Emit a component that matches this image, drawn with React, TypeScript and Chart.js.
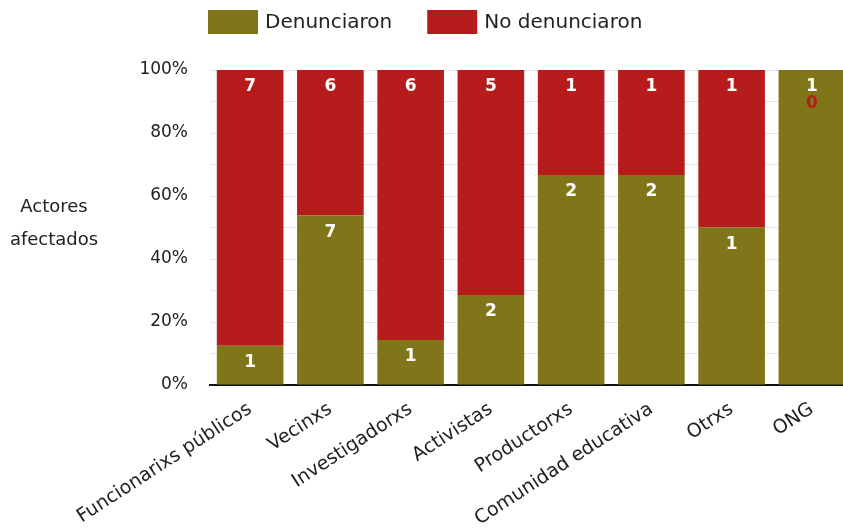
import React, { useEffect, useRef } from "react";
import { Chart, registerables } from "chart.js";

Chart.register(...registerables);

const categories = [
  "Funcionarixs públicos",
  "Vecinxs",
  "Investigadorxs",
  "Activistas",
  "Productorxs",
  "Comunidad educativa",
  "Otrxs",
  "ONG",
];
const denunciaron = [1, 7, 1, 2, 2, 2, 1, 1];
const noDenunciaron = [7, 6, 6, 5, 1, 1, 1, 0];
const seriesNames = ["Denunciaron", "No denunciaron"];
const seriesColors = ["#807519", "#B71C1C"];
const axisTitleLines = ["Actores", "afectados"];

const FONT = '"DejaVu Sans", Verdana, sans-serif';
const TEXT = "#222222";

const toPct = (a: number[], b: number[]) => a.map((v, i) => (v / (v + b[i])) * 100);

const legendPlugin = {
  id: "customLegend",
  afterDraw(chart: any) {
    const ctx = chart.ctx;
    ctx.save();
    ctx.font = `20px ${FONT}`;
    ctx.textBaseline = "middle";
    ctx.textAlign = "left";
    const boxW = 50;
    const boxH = 24;
    const textGap = 7;
    const itemGap = 35;
    const yMid = 22;
    let x = chart.chartArea.left - 2;
    chart.data.datasets.forEach((ds: any) => {
      ctx.fillStyle = ds.backgroundColor;
      ctx.fillRect(x, yMid - boxH / 2, boxW, boxH);
      ctx.fillStyle = TEXT;
      ctx.fillText(ds.label, x + boxW + textGap, yMid + 1);
      x += boxW + textGap + ctx.measureText(ds.label).width + itemGap;
    });
    ctx.restore();
  },
};

const axisTitlePlugin = {
  id: "axisTitle",
  afterDraw(chart: any) {
    const ctx = chart.ctx;
    ctx.save();
    ctx.font = `18px ${FONT}`;
    ctx.fillStyle = TEXT;
    ctx.textAlign = "center";
    ctx.textBaseline = "middle";
    const cx = 54;
    const mid = (chart.chartArea.top + chart.chartArea.bottom) / 2;
    ctx.fillText(axisTitleLines[0], cx, mid - 20);
    ctx.fillText(axisTitleLines[1], cx, mid + 13);
    ctx.restore();
  },
};

const valueLabelPlugin = {
  id: "valueLabels",
  afterDatasetsDraw(chart: any) {
    const ctx = chart.ctx;
    ctx.save();
    ctx.font = `bold 17px ${FONT}`;
    ctx.textAlign = "center";
    ctx.textBaseline = "middle";
    const counts = [denunciaron, noDenunciaron];
    chart.data.datasets.forEach((ds: any, di: number) => {
      const meta = chart.getDatasetMeta(di);
      meta.data.forEach((bar: any, i: number) => {
        const v = counts[di][i];
        const h = Math.abs(bar.base - bar.y);
        if (h < 1) {
          ctx.fillStyle = ds.backgroundColor;
          ctx.fillText(String(v), bar.x, bar.y + 34);
        } else {
          ctx.fillStyle = "#ffffff";
          ctx.fillText(String(v), bar.x, bar.y + 17);
        }
      });
    });
    ctx.restore();
  },
};

export default function App() {
  const ref = useRef<HTMLCanvasElement | null>(null);

  useEffect(() => {
    if (!ref.current) return;
    const chart = new Chart(ref.current, {
      type: "bar",
      data: {
        labels: categories,
        datasets: [
          {
            label: seriesNames[0],
            data: toPct(denunciaron, noDenunciaron),
            backgroundColor: seriesColors[0],
            borderWidth: 0,
          },
          {
            label: seriesNames[1],
            data: toPct(noDenunciaron, denunciaron),
            backgroundColor: seriesColors[1],
            borderWidth: 0,
          },
        ],
      },
      options: {
        animation: false,
        responsive: false,
        layout: { padding: { top: 70, right: 8, bottom: 0, left: 0 } },
        plugins: {
          legend: { display: false },
          tooltip: { enabled: false },
        },
        scales: {
          x: {
            stacked: true,
            offset: true,
            grid: { display: false },
            border: { display: true, color: "#111111", width: 2 },
            ticks: {
              color: TEXT,
              font: { family: FONT, size: 19 },
              minRotation: 33,
              maxRotation: 33,
              autoSkip: false,
              padding: 5,
            },
            afterFit: (scale: any) => {
              scale.height = 143;
            },
          } as any,
          y: {
            stacked: true,
            min: 0,
            max: 100,
            grid: { color: "#e4e4e4", drawTicks: false, lineWidth: 1 },
            border: { display: false },
            ticks: {
              stepSize: 10,
              autoSkip: false,
              color: TEXT,
              font: { family: FONT, size: 17 },
              padding: 22,
              callback: (v: any) => (Number(v) % 20 === 0 ? `${v}%` : ""),
            },
            afterFit: (scale: any) => {
              scale.width = 210;
            },
          } as any,
        },
        datasets: {
          bar: { categoryPercentage: 1, barPercentage: 0.83 },
        },
      } as any,
      plugins: [valueLabelPlugin, legendPlugin, axisTitlePlugin],
    });
    return () => chart.destroy();
  }, []);

  return (
    <div
      style={{
        position: "fixed",
        left: 0,
        top: 0,
        width: 843,
        height: 528,
        overflow: "hidden",
        background: "#ffffff",
      }}
    >
      <canvas ref={ref} width={860} height={528} style={{ display: "block" }} />
    </div>
  );
}
